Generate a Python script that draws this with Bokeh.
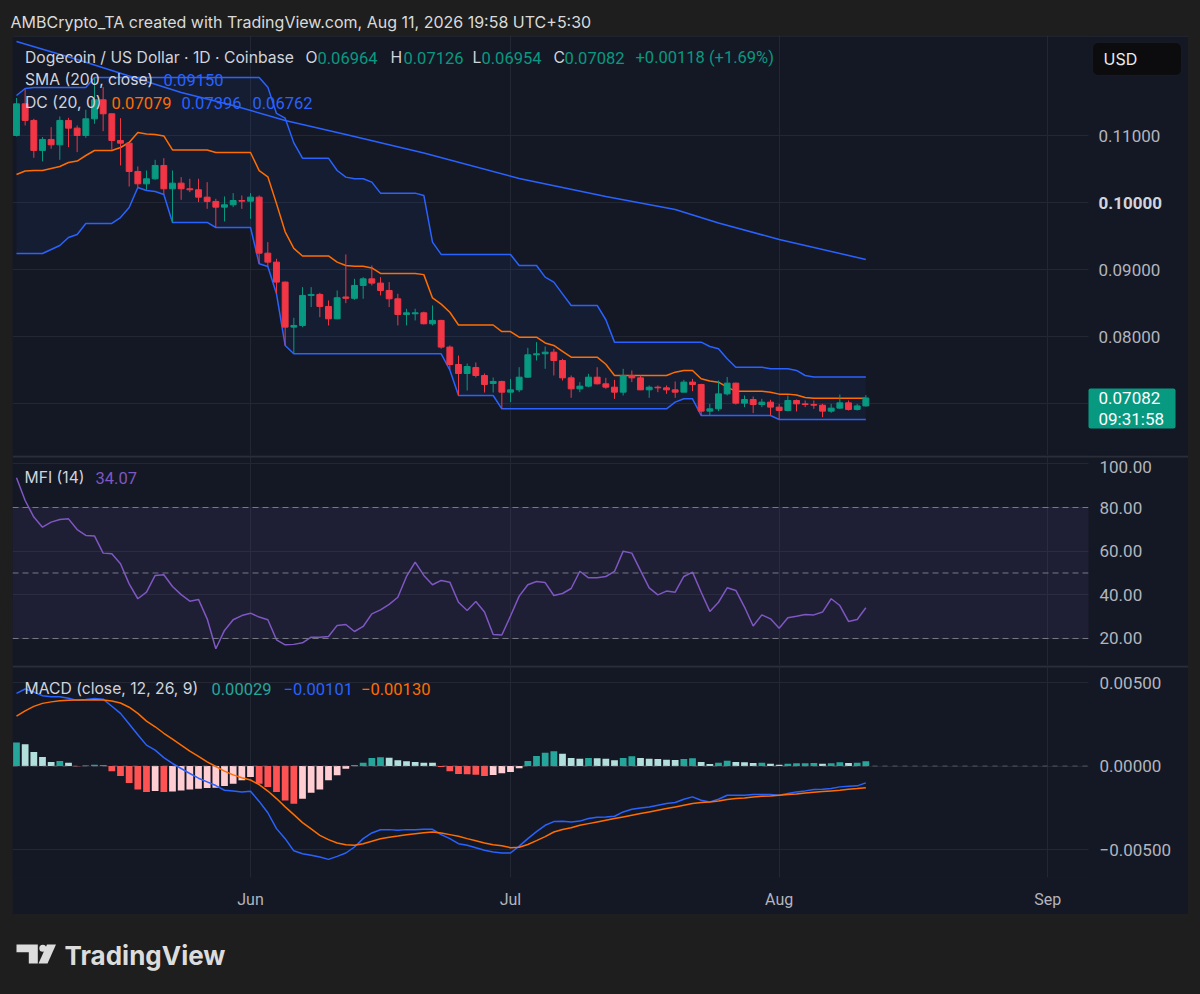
import pandas as pd
from bokeh.plotting import figure
from bokeh.layouts import column
from bokeh.models import (Range1d, Label, Span, BoxAnnotation, FixedTicker,
                          CustomJSTickFormatter, Grid, ColumnDataSource)
from bokeh.embed import file_html
from bokeh.resources import INLINE

# ---------------- data ----------------
dates = pd.date_range("2026-05-05", periods=99, freq="D")

opens = [0.11001,0.11473,0.11225,0.10777,0.10941,0.10861,0.11225,0.11110,0.11001,0.11249,
0.11533,0.11324,0.10926,0.10886,0.10463,0.10279,0.10354,0.10553,0.10205,0.10289,
0.10205,0.10190,0.10080,0.10016,0.09931,0.09966,0.10030,0.10020,0.10080,0.09244,
0.09110,0.08812,0.08140,0.08165,0.08613,0.08628,0.08449,0.08264,0.08590,0.08570,
0.08762,0.08861,0.08797,0.08687,0.08563,0.08329,0.08339,0.08354,0.08190,0.08240,
0.07842,0.07582,0.07448,0.07537,0.07418,0.07299,0.07329,0.07169,0.07204,0.07393,
0.07727,0.07742,0.07766,0.07642,0.07383,0.07219,0.07259,0.07393,0.07294,0.07244,
0.07169,0.07418,0.07383,0.07204,0.07244,0.07234,0.07204,0.07169,0.07319,0.07284,
0.06886,0.06921,0.07144,0.07304,0.07005,0.07060,0.06985,0.07020,0.06946,0.06896,
0.07045,0.06995,0.06985,0.06975,0.06886,0.06931,0.07010,0.06911,0.06964]

highs = [0.11560,0.11697,0.11249,0.10976,0.11125,0.11284,0.11264,0.11150,0.11384,0.11866,
0.11722,0.11330,0.11259,0.10890,0.10538,0.10478,0.10637,0.10662,0.10478,0.10379,
0.10354,0.10354,0.10304,0.10055,0.10090,0.10140,0.10105,0.10140,0.10105,0.09409,
0.09160,0.08822,0.08279,0.08737,0.08737,0.08652,0.08538,0.08687,0.09225,0.08861,
0.08886,0.09060,0.08886,0.08812,0.08637,0.08414,0.08414,0.08370,0.08463,0.08250,
0.07866,0.07716,0.07597,0.07612,0.07448,0.07388,0.07340,0.07368,0.07542,0.07831,
0.07916,0.07851,0.07816,0.07667,0.07418,0.07319,0.07443,0.07542,0.07383,0.07353,
0.07518,0.07493,0.07418,0.07269,0.07269,0.07269,0.07329,0.07353,0.07368,0.07294,
0.06995,0.07343,0.07396,0.07310,0.07120,0.07105,0.07070,0.07055,0.06995,0.07120,
0.07060,0.07045,0.07045,0.06995,0.06995,0.07134,0.07045,0.06995,0.07126]

lows = [0.10986,0.11150,0.10667,0.10613,0.10802,0.10637,0.10826,0.10752,0.10966,0.11175,
0.11065,0.10787,0.10553,0.10239,0.10230,0.10190,0.10340,0.10120,0.09702,0.10040,
0.10155,0.10006,0.09906,0.09627,0.09717,0.09931,0.09906,0.09757,0.09085,0.09046,
0.08637,0.07866,0.07742,0.08140,0.08439,0.08289,0.08165,0.08260,0.08498,0.08548,
0.08563,0.08762,0.08613,0.08439,0.08165,0.08165,0.08240,0.08180,0.08165,0.07817,
0.07500,0.07119,0.07194,0.07388,0.07164,0.07164,0.06921,0.07020,0.07169,0.07383,
0.07642,0.07518,0.07418,0.07343,0.07085,0.07169,0.07244,0.07284,0.07219,0.07070,
0.07120,0.07319,0.07200,0.07085,0.07169,0.07144,0.07085,0.07169,0.07184,0.06821,
0.06821,0.06886,0.07120,0.06985,0.06946,0.06856,0.06946,0.06821,0.06762,0.06886,
0.06881,0.06946,0.06921,0.06796,0.06861,0.06921,0.06896,0.06896,0.06954]

closes = [0.11473,0.11225,0.10777,0.10941,0.10861,0.11225,0.11110,0.11001,0.11249,0.11533,
0.11324,0.10926,0.10886,0.10463,0.10279,0.10354,0.10553,0.10205,0.10289,0.10205,
0.10190,0.10080,0.10016,0.09931,0.09966,0.10030,0.10020,0.10080,0.09244,0.09110,
0.08812,0.08140,0.08165,0.08613,0.08628,0.08449,0.08264,0.08578,0.08570,0.08762,
0.08861,0.08797,0.08687,0.08563,0.08329,0.08354,0.08354,0.08190,0.08240,0.07842,
0.07582,0.07448,0.07552,0.07418,0.07284,0.07329,0.07169,0.07204,0.07393,0.07727,
0.07742,0.07766,0.07642,0.07383,0.07219,0.07259,0.07393,0.07294,0.07244,0.07169,
0.07418,0.07383,0.07204,0.07244,0.07234,0.07204,0.07169,0.07319,0.07284,0.06886,
0.06921,0.07144,0.07304,0.07005,0.07060,0.06985,0.07020,0.06946,0.06896,0.07045,
0.06995,0.06985,0.06975,0.06886,0.06931,0.07010,0.06911,0.06964,0.07082]

dc_upper = [0.11597,0.11702,0.11716,0.11716,0.11716,0.11716,0.11716,0.11716,0.11716,0.11866,
0.11866,0.11866,0.11866,0.11866,0.11866,0.11866,0.11866,0.11866,0.11866,0.11866,
0.11866,0.11866,0.11866,0.11866,0.11866,0.11866,0.11866,0.11866,0.11866,0.11722,
0.11330,0.11259,0.10890,0.10662,0.10662,0.10662,0.10662,0.10478,0.10379,0.10354,
0.10354,0.10304,0.10140,0.10140,0.10140,0.10140,0.10140,0.10105,0.09409,0.09225,
0.09225,0.09225,0.09225,0.09225,0.09225,0.09225,0.09225,0.09225,0.09060,0.09060,
0.09060,0.08886,0.08812,0.08637,0.08463,0.08463,0.08463,0.08463,0.08250,0.07916,
0.07916,0.07916,0.07916,0.07916,0.07916,0.07916,0.07916,0.07916,0.07916,0.07916,
0.07851,0.07816,0.07667,0.07542,0.07542,0.07542,0.07542,0.07518,0.07518,0.07518,
0.07493,0.07418,0.07396,0.07396,0.07396,0.07396,0.07396,0.07396,0.07396]

dc_lower = [0.09239,0.09239,0.09239,0.09239,0.09299,0.09358,0.09478,0.09522,0.09687,0.09687,
0.09687,0.09687,0.09776,0.09925,0.10225,0.10179,0.10164,0.10120,0.09702,0.09702,
0.09702,0.09702,0.09702,0.09627,0.09627,0.09627,0.09627,0.09627,0.09085,0.09046,
0.08637,0.07866,0.07742,0.07742,0.07742,0.07742,0.07742,0.07742,0.07742,0.07742,
0.07742,0.07742,0.07742,0.07742,0.07742,0.07742,0.07742,0.07742,0.07742,0.07742,
0.07500,0.07119,0.07119,0.07119,0.07119,0.07119,0.06921,0.06921,0.06921,0.06921,
0.06921,0.06921,0.06921,0.06921,0.06921,0.06921,0.06921,0.06921,0.06921,0.06921,
0.06921,0.06921,0.06921,0.06921,0.06921,0.06921,0.07020,0.07070,0.07070,0.06821,
0.06821,0.06821,0.06821,0.06821,0.06821,0.06821,0.06821,0.06821,0.06762,0.06762,
0.06762,0.06762,0.06762,0.06762,0.06762,0.06762,0.06762,0.06762,0.06762]

sma_dates = pd.to_datetime(["2026-05-05","2026-05-12","2026-05-24","2026-05-30","2026-06-05",
                            "2026-06-12","2026-06-21","2026-07-02","2026-07-12","2026-07-20",
                            "2026-07-25","2026-08-01","2026-08-11"])
sma_values = [0.12403,0.12134,0.11642,0.11448,0.11224,0.11015,0.10739,0.10358,0.10090,0.09896,
              0.09694,0.09448,0.09150]

mfi = [93.6,83.2,75.6,71.0,73.3,74.5,74.8,69.9,67.2,67.0,
59.1,58.8,54.2,45.0,38.2,41.2,48.9,49.2,43.8,40.1,
37.1,37.9,29.0,15.3,23.7,28.6,30.5,31.6,29.8,28.6,
19.4,17.1,17.3,18.0,20.6,20.6,20.9,26.0,26.4,23.2,
25.5,31.3,33.1,35.6,38.9,48.4,55.0,48.9,44.6,46.6,
45.8,36.6,32.8,36.9,32.1,21.8,21.6,30.3,39.4,44.6,
46.1,45.6,39.7,40.6,42.9,50.8,47.8,47.8,48.4,50.7,
60.0,59.1,51.1,43.2,40.0,41.7,41.2,48.4,50.4,41.2,
32.4,36.6,43.2,42.0,34.4,25.7,30.8,29.0,24.7,29.5,
30.2,31.0,30.8,32.1,38.2,35.1,27.8,28.7,34.07]

macd = [0.00435,0.00461,0.00443,0.00421,0.00415,0.00414,0.00406,0.00393,0.00398,0.00404,
0.00400,0.00358,0.00315,0.00252,0.00187,0.00125,0.00095,0.00050,0.00015,-0.00015,
-0.00045,-0.00073,-0.00095,-0.00117,-0.00145,-0.00149,-0.00155,-0.00151,-0.00212,-0.00280,
-0.00375,-0.00435,-0.00508,-0.00525,-0.00534,-0.00545,-0.00559,-0.00541,-0.00521,-0.00485,
-0.00435,-0.00401,-0.00382,-0.00381,-0.00385,-0.00381,-0.00381,-0.00379,-0.00379,-0.00411,
-0.00435,-0.00465,-0.00475,-0.00490,-0.00505,-0.00515,-0.00521,-0.00521,-0.00480,-0.00435,
-0.00393,-0.00355,-0.00333,-0.00331,-0.00335,-0.00330,-0.00314,-0.00307,-0.00305,-0.00301,
-0.00275,-0.00259,-0.00251,-0.00245,-0.00235,-0.00225,-0.00219,-0.00199,-0.00185,-0.00205,
-0.00215,-0.00199,-0.00175,-0.00175,-0.00175,-0.00171,-0.00171,-0.00171,-0.00175,-0.00165,
-0.00155,-0.00149,-0.00141,-0.00139,-0.00135,-0.00125,-0.00121,-0.00119,-0.00101]

signal = [0.00299,0.00330,0.00357,0.00375,0.00384,0.00390,0.00394,0.00395,0.00395,0.00396,
0.00395,0.00389,0.00377,0.00352,0.00315,0.00269,0.00235,0.00196,0.00161,0.00125,
0.00089,0.00058,0.00025,-0.00003,-0.00031,-0.00053,-0.00070,-0.00084,-0.00112,-0.00150,
-0.00195,-0.00245,-0.00291,-0.00339,-0.00377,-0.00415,-0.00441,-0.00461,-0.00471,-0.00475,
-0.00465,-0.00451,-0.00436,-0.00426,-0.00419,-0.00411,-0.00405,-0.00399,-0.00395,-0.00401,
-0.00411,-0.00421,-0.00435,-0.00448,-0.00461,-0.00471,-0.00478,-0.00489,-0.00486,-0.00470,
-0.00447,-0.00423,-0.00395,-0.00380,-0.00370,-0.00355,-0.00345,-0.00335,-0.00325,-0.00315,
-0.00305,-0.00295,-0.00285,-0.00275,-0.00265,-0.00255,-0.00245,-0.00235,-0.00225,-0.00219,
-0.00215,-0.00209,-0.00201,-0.00195,-0.00191,-0.00185,-0.00181,-0.00179,-0.00175,-0.00171,
-0.00167,-0.00161,-0.00157,-0.00153,-0.00149,-0.00145,-0.00139,-0.00135,-0.00130]

hist = [0.00140,0.00130,0.00084,0.00054,0.00024,0.00030,0.00020,-0.00002,0.00003,0.00008,
0.00003,-0.00032,-0.00060,-0.00102,-0.00140,-0.00156,-0.00150,-0.00156,-0.00152,-0.00146,
-0.00140,-0.00136,-0.00132,-0.00130,-0.00120,-0.00106,-0.00086,-0.00066,-0.00106,-0.00126,
-0.00156,-0.00206,-0.00226,-0.00196,-0.00160,-0.00140,-0.00086,-0.00056,-0.00016,0.00006,
0.00020,0.00048,0.00052,0.00050,0.00034,0.00028,0.00024,0.00020,0.00020,-0.00006,
-0.00032,-0.00048,-0.00050,-0.00052,-0.00060,-0.00054,-0.00044,-0.00036,-0.00014,0.00030,
0.00060,0.00080,0.00088,0.00074,0.00048,0.00044,0.00048,0.00046,0.00044,0.00034,
0.00048,0.00058,0.00048,0.00044,0.00042,0.00038,0.00036,0.00042,0.00046,0.00024,
0.00012,0.00020,0.00032,0.00024,0.00022,0.00018,0.00019,0.00014,0.00008,0.00014,
0.00016,0.00017,0.00018,0.00014,0.00016,0.00022,0.00018,0.00020,0.00029]

price_ticks = [0.07, 0.08, 0.09, 0.10, 0.11]
price_tick_labels = ["", "0.08000", "0.09000", "0.10000", "0.11000"]
mfi_ticks = [20, 40, 60, 80, 100]
mfi_tick_labels = ["20.00", "40.00", "60.00", "80.00", "100.00"]
mfi_levels = [80, 50, 20]
macd_ticks = [-0.005, 0.0, 0.005]
macd_tick_labels = ["\u22120.00500", "0.00000", "0.00500"]
month_ticks = ["2026-06-01", "2026-07-01", "2026-08-01", "2026-09-01"]

header_text = "AMBCrypto_TA created with TradingView.com, Aug 11, 2026 19:58 UTC+5:30"

# ---------------- style ----------------
OUTER = "#1e1e1e"
BG = "#141824"
GRID = "#232733"
SEP = "#2a2e39"
TXT = "#d1d4dc"
AXC = "#b2b5be"
UP = "#089981"
DOWN = "#f23645"
BLUE = "#2962ff"
ORANGE = "#ff6d00"
PURPLE = "#7e57c2"
FONT = "Inter"
NUMF = "Roboto"
FS = "16px"
LFS = "15.7px"
NFS = "17px"
VFS = "16.5px"

DAY = 86400000
W = 1176                       # panel width: x 12..1188
month_ms = [int(pd.Timestamp(m).timestamp() * 1000) for m in month_ticks]
x0 = dates[0]
PXD = 1076 / 124.15            # pixels per day inside the chart area
xr = Range1d(start=x0 - pd.Timedelta(days=0.46),
             end=x0 + pd.Timedelta(days=W / PXD - 0.46))


def make_y(top_ref, h, lo, hi):
    return lambda ry: hi - (ry - top_ref) * (hi - lo) / h


# price pane: y 35..455 ; 0.11 at y=135, 6700 px per unit
P_HI, P_LO = 0.13015 - 35 / 6700, 0.13015 - 455 / 6700
# MFI pane: y 455..665 ; 80 at y=507, 2.183 px per unit
M_HI, M_LO = 80 + (507 - 455) / 2.183, 80 - (665 - 507) / 2.183
# MACD pane frame: y 665..877 ; 0 at y=765.5, 16700 px per unit
C_HI, C_LO = (765.5 - 665) / 16700, (765.5 - 877) / 16700

py = make_y(35, 420, P_LO, P_HI)
my = make_y(455, 210, M_LO, M_HI)
cy = make_y(665, 212, C_LO, C_HI)


def pane(height, lo, hi, yticks, xaxis=False, bottom=0):
    f = figure(width=W, height=height, x_range=xr, y_range=Range1d(lo, hi),
               x_axis_type="datetime",
               x_axis_location="below" if xaxis else None, y_axis_location=None,
               output_backend="svg", toolbar_location=None,
               min_border_left=0, min_border_right=0, min_border_top=0,
               min_border_bottom=bottom, background_fill_color=BG,
               border_fill_color=BG, outline_line_color=None, margin=(0, 12, 0, 12))
    f.grid.visible = False
    f.add_layout(Grid(dimension=1, ticker=FixedTicker(ticks=yticks), grid_line_color=GRID))
    f.add_layout(Grid(dimension=0, ticker=FixedTicker(ticks=month_ms), grid_line_color=GRID))
    if xaxis:
        xa = f.xaxis[0]
        xa.ticker = FixedTicker(ticks=month_ms)
        xa.formatter = CustomJSTickFormatter(code="""
            const m=['Jan','Feb','Mar','Apr','May','Jun','Jul','Aug','Sep','Oct','Nov','Dec'];
            return m[new Date(tick).getUTCMonth()];""")
        xa.axis_line_color = None
        xa.major_tick_line_color = None
        xa.minor_tick_line_color = None
        xa.major_label_standoff = 6
        xa.major_label_text_color = AXC
        xa.major_label_text_font = NUMF
        xa.major_label_text_font_size = "16px"
    return f


def lab(f, x_ref, y, text, color, size=LFS, style="normal", font=FONT):
    f.add_layout(Label(x=x_ref - 12, y=y, x_units="screen", y_units="data", text=text,
                       text_color=color, text_font=font, text_font_size=size,
                       text_font_style=style, text_baseline="middle"))


def scale_area(f, ticks, labels, x_ref=1098, bold=None, ypos=None):
    # price-scale strip on the right (x 1088..1188)
    f.add_layout(BoxAnnotation(left=1076, left_units="screen", fill_color=BG, fill_alpha=1,
                               line_color=None))
    for i, (t, s) in enumerate(zip(ticks, labels)):
        if s:
            isb = bold is not None and abs(t - bold) < 1e-12
            yv = ypos[i] if ypos is not None else t
            lab(f, x_ref, yv, s, TXT if isb else AXC, size=NFS,
                style="bold" if isb else "normal", font=NUMF)


# ---------------- header ----------------
header = figure(width=1200, height=35, x_range=Range1d(0, 1), y_range=Range1d(0, 1),
                x_axis_location=None, y_axis_location=None, output_backend="svg",
                toolbar_location=None, min_border=0, background_fill_color=OUTER,
                border_fill_color=OUTER, outline_line_color=None)
header.grid.visible = False
header.add_layout(Label(x=10, y=14, x_units="screen", y_units="screen", text=header_text,
                        text_color="#dadada", text_font=FONT, text_font_size=FS,
                        text_baseline="middle"))

# ---------------- price pane ----------------
p = pane(420, P_LO, P_HI, price_ticks)

p.varea(x=dates, y1=dc_lower, y2=dc_upper, fill_color=BLUE, fill_alpha=0.07)
dc_mid = [(u + l) / 2 for u, l in zip(dc_upper, dc_lower)]
p.line(dates, dc_upper, line_color=BLUE, line_width=1.5)
p.line(dates, dc_lower, line_color=BLUE, line_width=1.5)
p.line(dates, dc_mid, line_color=ORANGE, line_width=1.5)
p.line(sma_dates, sma_values, line_color=BLUE, line_width=1.5)

cols = [UP if c >= o else DOWN for o, c in zip(opens, closes)]
src = ColumnDataSource(dict(x=dates, o=opens, h=highs, l=lows, c=closes,
                            top=[max(o, c) for o, c in zip(opens, closes)],
                            bot=[min(o, c) for o, c in zip(opens, closes)], col=cols))
p.segment(x0="x", y0="l", x1="x", y1="h", line_color="col", line_width=1, source=src)
p.vbar(x="x", top="top", bottom="bot", width=0.68 * DAY, fill_color="col",
       line_color="col", line_width=1, source=src)

# legend lines
y1, y2, y3 = py(57), py(79), py(102)
lab(p, 24.5, y1, "Dogecoin / US Dollar · 1D · Coinbase", TXT)
for xr_, t, c in [(305, "O", TXT), (390, "H", TXT), (472, "L", TXT), (553, "C", TXT)]:
    lab(p, xr_, y1, t, c)
for xr_, t, c in [(317, "0.06964", UP), (403, "0.07126", UP), (481, "0.06954", UP),
                  (564, "0.07082", UP), (635, "+0.00118 (+1.69%)", UP)]:
    lab(p, xr_, y1, t, c, size=VFS, font=NUMF)
lab(p, 24.5, y2, "SMA (200, close)", TXT)
lab(p, 163, y2, "0.09150", BLUE, size=VFS, font=NUMF)
lab(p, 24.5, y3, "DC (20, 0)", TXT)
lab(p, 111, y3, "0.07079", ORANGE, size=VFS, font=NUMF)
lab(p, 181, y3, "0.07396", BLUE, size=VFS, font=NUMF)
lab(p, 252, y3, "0.06762", BLUE, size=VFS, font=NUMF)

scale_area(p, price_ticks, price_tick_labels, bold=0.10)
p.add_layout(BoxAnnotation(bottom=py(36), fill_color=SEP, fill_alpha=1, line_color=None))

# USD button
p.add_layout(BoxAnnotation(left=1080, right=1169, left_units="screen", right_units="screen",
                           top=py(42), bottom=py(75), fill_color="#0c0c0e", fill_alpha=1,
                           line_color=SEP, line_width=1, border_radius=6))
lab(p, 1103, py(58.5), "USD", "#ececec", size="16px")

# last price tag
last = closes[-1]
p.add_layout(BoxAnnotation(left=1076, right=1163, left_units="screen", right_units="screen",
                           top=py(388), bottom=py(428), fill_color=UP, fill_alpha=1,
                           line_color=None, border_radius=2))
lab(p, 1098, last, f"{last:.5f}", "#ffffff", size=NFS, font=NUMF)
lab(p, 1098, py(418), "09:31:58", "#ffffff", size=NFS, font=NUMF)

# ---------------- MFI pane ----------------
m = pane(210, M_LO, M_HI, mfi_ticks)
m.add_layout(BoxAnnotation(bottom=20, top=80, fill_color=PURPLE, fill_alpha=0.1,
                           line_color=None))
for lv in mfi_levels:
    m.add_layout(Span(location=lv, dimension="width", line_color="#787b86",
                      line_dash="6 4", line_width=1))
m.line(dates, mfi, line_color=PURPLE, line_width=1.5)
lab(m, 24, my(477), "MFI (14)", TXT)
lab(m, 95, my(477), "34.07", PURPLE, size=VFS, font=NUMF)
mfi_label_y = [20, 40, 60, 80, my(466)]
scale_area(m, mfi_ticks, mfi_tick_labels, x_ref=1099, ypos=mfi_label_y)
m.add_layout(BoxAnnotation(bottom=my(457), fill_color=SEP, fill_alpha=1, line_color=None))

# ---------------- MACD pane ----------------
c = pane(249, C_LO, C_HI, macd_ticks, xaxis=True, bottom=37)
c.add_layout(Span(location=0, dimension="width", line_color="#787b86", line_alpha=0.6,
                  line_dash="5 5", line_width=1))
hcol = []
prev = None
for h in hist:
    if h >= 0:
        hcol.append("#26a69a" if (prev is None or h > prev) else "#b2dfdb")
    else:
        hcol.append("#ffcdd2" if (prev is not None and h > prev) else "#ff5252")
    prev = h
c.vbar(x=dates, top=hist, bottom=0, width=0.78 * DAY, fill_color=hcol, line_color=None)
c.line(dates, macd, line_color=BLUE, line_width=1.5)
c.line(dates, signal, line_color=ORANGE, line_width=1.5)
yl = cy(688)
lab(c, 24, yl, "MACD (close, 12, 26, 9)", TXT)
lab(c, 211, yl, "0.00029", "#26a69a", size=VFS, font=NUMF)
lab(c, 283, yl, "\u22120.00101", BLUE, size=VFS, font=NUMF)
lab(c, 360.5, yl, "\u22120.00130", ORANGE, size=VFS, font=NUMF)
scale_area(c, macd_ticks, macd_tick_labels, x_ref=1099)
c.add_layout(BoxAnnotation(bottom=cy(667), fill_color=SEP, fill_alpha=1, line_color=None))

# ---------------- footer (TradingView logo) ----------------
ft = figure(width=1200, height=80, x_range=Range1d(0, 1200), y_range=Range1d(994, 914),
            x_axis_location=None, y_axis_location=None, output_backend="svg",
            toolbar_location=None, min_border=0, background_fill_color=OUTER,
            border_fill_color=OUTER, outline_line_color=None)
ft.grid.visible = False
LOGO = "#dcdcdc"
ft.patch([16, 37.3, 37.3, 28.3, 28.3, 16], [944, 944, 963, 963, 951.7, 951.7],
         fill_color=LOGO, line_color=None)
ft.scatter([42.3], [947.8], size=7, fill_color=LOGO, line_color=None)
ft.patch([46.5, 55.5, 47, 38], [944, 944, 963, 963], fill_color=LOGO, line_color=None)
ft.add_layout(Label(x=64, y=955, text="TradingView", text_color=LOGO, text_font=FONT,
                    text_font_size="26px", text_font_style="bold", text_baseline="middle"))

layout = column(header, p, m, c, ft, spacing=0, styles={"background-color": OUTER})

open("out.html", "w").write(file_html(layout, INLINE))
